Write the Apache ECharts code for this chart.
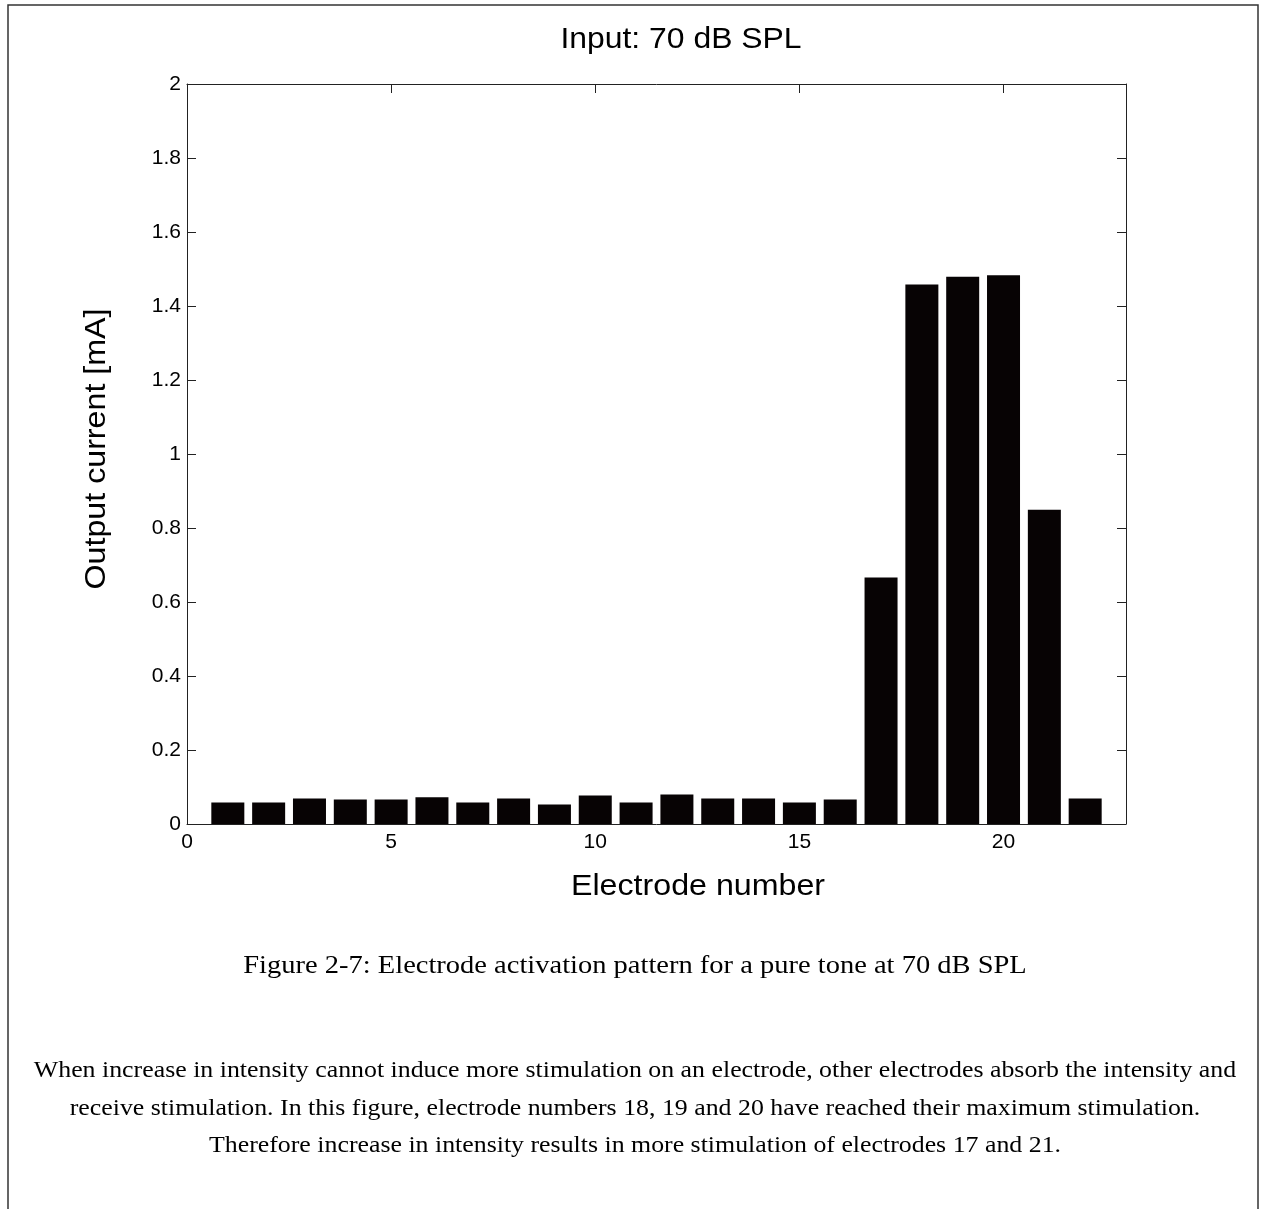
<!DOCTYPE html>
<html>
<head>
<meta charset="utf-8">
<script src="https://cdn.jsdelivr.net/npm/echarts@6/dist/echarts.min.js"></script>
<style>
html,body{margin:0;padding:0;background:#fff;}
#c{width:1267px;height:1209px;}
</style>
</head>
<body>
<div id="c"></div>
<script>
// Data
var electrodes = [1,2,3,4,5,6,7,8,9,10,11,12,13,14,15,16,17,18,19,20,21,22];
var outputCurrent = [0.058,0.058,0.069,0.066,0.066,0.072,0.058,0.069,0.053,0.077,0.058,0.080,0.069,0.069,0.058,0.066,0.666,1.458,1.479,1.483,0.849,0.069];
var titleText = 'Input: 70 dB SPL';
var xName = 'Electrode number';
var yName = 'Output current [mA]';
var captionText = 'Figure 2-7: Electrode activation pattern for a pure tone at 70 dB SPL';
var paragraphLines = [
  'When increase in intensity cannot induce more stimulation on an electrode, other electrodes absorb the intensity and',
  'receive stimulation. In this figure, electrode numbers 18, 19 and 20 have reached their maximum stimulation.',
  'Therefore increase in intensity results in more stimulation of electrodes 17 and 21.'
];

var chart = echarts.init(document.getElementById('c'), null, {renderer:'canvas'});
var axisCol = '#222';
var sans = 'Liberation Sans, Arial, sans-serif';
var serif = 'Liberation Serif, Times New Roman, serif';

var seriesData = electrodes.map(function(e,i){return [e, outputCurrent[i]];});

var xCommon = {
  type:'value', min:0, max:23, interval:5,
  axisLine:{show:true, onZero:false, lineStyle:{color:axisCol, width:1}},
  axisTick:{show:true, inside:true, length:9, lineStyle:{color:axisCol}},
  splitLine:{show:false}
};
var yCommon = {
  type:'value', min:0, max:2, interval:0.2,
  axisLine:{show:true, onZero:false, lineStyle:{color:axisCol, width:1}},
  axisTick:{show:true, inside:true, length:9, lineStyle:{color:axisCol}},
  splitLine:{show:false}
};

var graphics = [
  {type:'rect', shape:{x:8, y:5, width:1250, height:1230}, style:{fill:'none', stroke:'#333', lineWidth:1.5}, z:-1},
  {type:'text', x:681, y:40, scaleX:1.1, style:{text:titleText, font:'29px '+sans, fill:'#000', textAlign:'center', textVerticalAlign:'middle'}},
  {type:'text', x:698, y:887, scaleX:1.11, style:{text:xName, font:'29px '+sans, fill:'#000', textAlign:'center', textVerticalAlign:'middle'}},
  {type:'text', x:97, y:449, rotation:Math.PI/2, scaleX:1.11, style:{text:yName, font:'29px '+sans, fill:'#000', textAlign:'center', textVerticalAlign:'middle'}},
  {type:'text', x:635, y:966, scaleX:1.14, style:{text:captionText, font:'25px '+serif, fill:'#000', textAlign:'center', textVerticalAlign:'middle'}}
];
var lineYs = [1071, 1109, 1146];
paragraphLines.forEach(function(t,i){
  graphics.push({type:'text', x:635, y:lineYs[i], scaleX:1.1, style:{text:t, font:'23.5px '+serif, fill:'#000', textAlign:'center', textVerticalAlign:'middle'}});
});

chart.setOption({
  animation:false,
  backgroundColor:'#fff',
  grid:{left:187, top:84, width:939, height:740, containLabel:false},
  xAxis:[
    Object.assign({}, xCommon, {position:'bottom',
      axisLabel:{show:true, color:'#000', fontSize:21, fontFamily:sans, margin:8, showMaxLabel:false,
        formatter:function(v){return v % 5 === 0 ? String(v) : '';}}}),
    Object.assign({}, xCommon, {position:'top', axisLabel:{show:false}})
  ],
  yAxis:[
    Object.assign({}, yCommon, {position:'left',
      axisLabel:{show:true, color:'#000', fontSize:21, fontFamily:sans, margin:6,
        formatter:function(v){return String(Math.round(v*10)/10);}}}),
    Object.assign({}, yCommon, {position:'right', axisLabel:{show:false}})
  ],
  series:[{
    type:'bar', xAxisIndex:0, yAxisIndex:0,
    data:seriesData, barWidth:33,
    itemStyle:{color:'#070304'}
  }],
  graphic:graphics
});
</script>
</body>
</html>
